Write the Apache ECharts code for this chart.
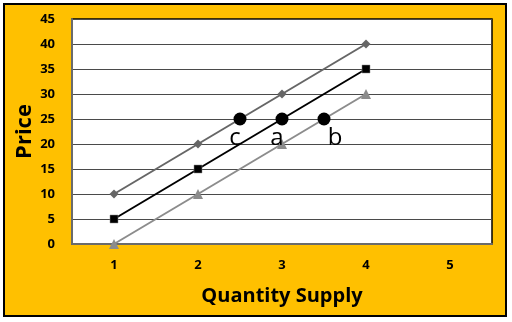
<!DOCTYPE html>
<html><head><meta charset="utf-8">
<script src="https://cdn.jsdelivr.net/npm/echarts@6/dist/echarts.min.js"></script>
<style>html,body{margin:0;padding:0;background:#fff}#c{width:512px;height:322px}</style>
</head><body><div id="c"></div>
<script>
const categories = ['1','2','3','4','5'];
const supplyTop = [10, 20, 30, 40, null];
const supplyMid = [5, 15, 25, 35, null];
const supplyLow = [0, 10, 20, 30, null];
const pointNames = ['c', 'a', 'b'];
const pointX = [2.5, 3, 3.5];
const pointY = [25, 25, 25];
const yTicks = [0,5,10,15,20,25,30,35,40,45];

const labelOffsets = {c: [-5, -4], a: [-5, -4], b: [11, -4]};
const font = "'Open Sans', 'Liberation Sans', sans-serif";

const chart = echarts.init(document.getElementById('c'), null, {renderer: 'canvas'});
chart.setOption({
  backgroundColor: '#fff',
  animation: false,
  graphic: [{
    type: 'rect', z: -10, silent: true,
    shape: {x: 4, y: 4, width: 502, height: 312},
    style: {fill: '#FFC000', stroke: '#000', lineWidth: 2}
  }],
  grid: {left: 72, top: 19, width: 420, height: 225, show: true, outerBoundsMode: 'none', containLabel: false,
         backgroundColor: '#fff', borderColor: '#000', borderWidth: 1.5},
  xAxis: [{
    type: 'category', data: categories, boundaryGap: true,
    axisLine: {lineStyle: {color: '#6b6b6b', width: 2}},
    axisTick: {show: false},
    axisLabel: {color: '#000', fontWeight: 'bold', fontSize: 13, margin: 15, fontFamily: font},
    name: 'Quantity Supply', nameLocation: 'middle', nameGap: 42, nameMoveOverlap: false,
    nameTextStyle: {color: '#000', fontWeight: 'bold', fontSize: 20, fontFamily: font}
  }, {
    type: 'value', min: 0.5, max: 5.5, show: false
  }],
  yAxis: {
    type: 'value', min: 0, max: 45, interval: 5,
    axisLine: {show: true, lineStyle: {color: '#6b6b6b', width: 2}},
    axisTick: {show: false},
    splitLine: {lineStyle: {color: '#4a4a4a', width: 1}},
    axisLabel: {color: '#000', fontWeight: 'bold', fontSize: 13, margin: 17, fontFamily: font,
      formatter: v => yTicks.includes(v) ? String(v) : ''},
    name: 'Price', nameLocation: 'middle', nameGap: 36, nameMoveOverlap: false,
    nameTextStyle: {color: '#000', fontWeight: 'bold', fontSize: 22, fontFamily: font}
  },
  series: [{
    type: 'line', data: supplyTop, symbol: 'diamond', symbolSize: 9,
    lineStyle: {color: '#666', width: 2}, itemStyle: {color: '#666'}
  }, {
    type: 'line', data: supplyMid, symbol: 'rect', symbolSize: 8,
    lineStyle: {color: '#000', width: 2}, itemStyle: {color: '#000', borderColor: '#888', borderWidth: 0.5}
  }, {
    type: 'line', data: supplyLow, symbol: 'triangle', symbolSize: 10,
    lineStyle: {color: '#8c8c8c', width: 2}, itemStyle: {color: '#8c8c8c'}
  }, {
    type: 'scatter', xAxisIndex: 1, symbolSize: 13, z: 5,
    itemStyle: {color: '#000', opacity: 1},
    data: pointNames.map((n, i) => ({
      name: n, value: [pointX[i], pointY[i]],
      label: {show: true, position: 'bottom', formatter: n, offset: labelOffsets[n],
              fontSize: 24, color: '#000', fontFamily: font}
    }))
  }]
});
</script></body></html>
